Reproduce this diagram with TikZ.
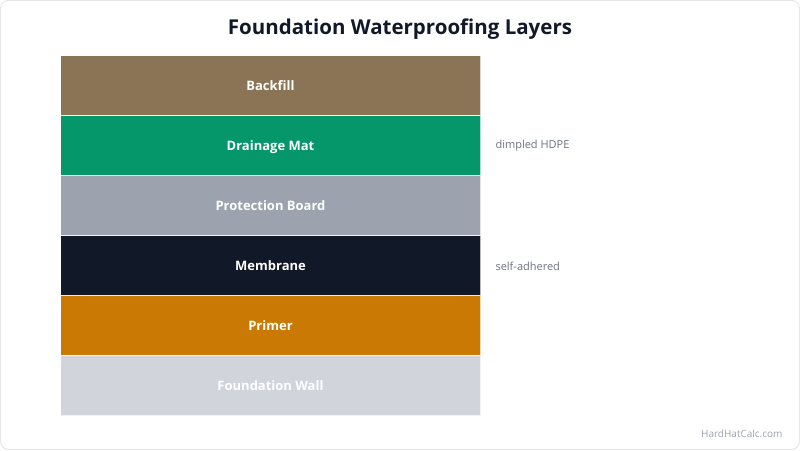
\documentclass[tikz,border=0pt]{standalone}
\usepackage{fontspec}
\setmainfont{Open Sans}
\definecolor{backfill}{HTML}{8B7355}
\definecolor{drain}{HTML}{059669}
\definecolor{protect}{HTML}{9CA3AF}
\definecolor{membr}{HTML}{111827}
\definecolor{primer}{HTML}{CA7A04}
\definecolor{wall}{HTML}{D1D5DB}
\definecolor{titlec}{HTML}{111827}
\definecolor{sidec}{HTML}{6B7280}
\definecolor{markc}{HTML}{9CA3AF}
\definecolor{framec}{HTML}{E5E7EB}
\begin{document}
\begin{tikzpicture}[x=1pt,y=-1pt,
  layer/.style={draw=white,draw opacity=0.7,line width=1pt,minimum width=420pt,minimum height=60pt,inner sep=0pt,anchor=north west,text=white,font=\fontsize{13}{15}\selectfont\bfseries,text depth=0pt},
  side/.style={anchor=west,text=sidec,font=\fontsize{11}{13}\selectfont},
]
\useasboundingbox (0,0) rectangle (800,450);
\draw[framec,rounded corners=8pt,line width=1pt] (0.5,0.5) rectangle (799.5,449.5);
\node[font=\fontsize{20.5}{24}\selectfont\bfseries,text=titlec] (title) at (400,29) {Foundation Waterproofing Layers};
\node[layer,fill=backfill] (l1) at (60,55) {Backfill};
\node[layer,fill=drain] (l2) at (60,115) {Drainage Mat};
\node[layer,fill=protect] (l3) at (60,175) {Protection Board};
\node[layer,fill=membr] (l4) at (60,235) {Membrane};
\node[layer,fill=primer] (l5) at (60,295) {Primer};
\node[layer,fill=wall] (l6) at (60,355) {Foundation Wall};
\node[side] (s2) at (492,146) {dimpled HDPE};
\node[side] (s4) at (492,266) {self-adhered};
\node[anchor=east,text=markc,font=\fontsize{10}{12}\selectfont] (mark) at (786,434) {HardHatCalc.com};
\end{tikzpicture}
\end{document}
